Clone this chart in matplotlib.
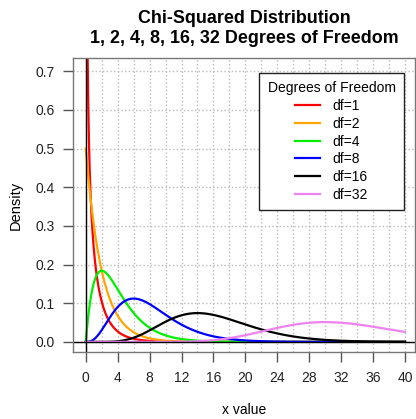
import math
import numpy as np
import matplotlib
matplotlib.use("Agg")
import matplotlib.pyplot as plt

plt.rcParams['font.family'] = ['Liberation Sans', 'DejaVu Sans']

# degrees of freedom and line colours
dfs = [1, 2, 4, 8, 16, 32]
colors = ['red', 'orange', '#00f000', 'blue', 'black', 'violet']
x_ticks = [0, 4, 8, 12, 16, 20, 24, 28, 32, 36, 40]
y_ticks = [0.0, 0.1, 0.2, 0.3, 0.4, 0.5, 0.6, 0.7]


def dchisq(x, k):
    return x ** (k / 2 - 1) * np.exp(-x / 2) / (2 ** (k / 2) * math.gamma(k / 2))


fig = plt.figure(figsize=(4.16, 4.19), dpi=100)
ax = fig.add_axes([0.1755, 0.160, 0.822, 0.7016])

x = np.linspace(0.0005, 40, 3000)
for k, c in zip(dfs, colors):
    ax.plot(x, dchisq(x, k), color=c, lw=1.6, label='df=%d' % k)

ax.axvline(0, color='black', lw=1)
ax.axhline(0, color='black', lw=1)

ax.set_xlim(-1.6, 41.25)
ax.set_ylim(-0.026, 0.734)
ax.set_xticks(x_ticks)
ax.set_xticks(np.arange(0, 41, 2), minor=True)
ax.set_yticks(y_ticks)
ax.set_yticklabels(['%.1f' % v for v in y_ticks])
ax.grid(True, which='both', axis='x', color='#bbbbbb', ls=':', lw=1)
ax.grid(True, which='major', axis='y', color='#bbbbbb', ls=':', lw=1)
ax.tick_params(which='minor', length=0)
ax.tick_params(which='major', length=7, width=1, color='#555555',
               labelsize=10, labelcolor='#222222')
ax.tick_params(axis='x', pad=7)
ax.tick_params(axis='y', pad=6)
for s in ax.spines.values():
    s.set_color('#777777')
    s.set_linewidth(1)

ax.set_xlabel('x value', fontsize=10, labelpad=13)
ax.set_ylabel('Density', fontsize=10.5, labelpad=9)
ax.set_title('Chi-Squared Distribution\n1, 2, 4, 8, 16, 32 Degrees of Freedom',
             fontsize=12.9, fontweight='bold', pad=11, linespacing=1.2)

leg = ax.legend(title='Degrees of Freedom', loc='upper right',
                bbox_to_anchor=(0.968, 0.949), borderaxespad=0,
                fontsize=10, title_fontsize=10,
                fancybox=False, framealpha=1, edgecolor='#222222',
                handlelength=1.8, handletextpad=0.9, borderpad=0.6,
                labelspacing=0.27)
leg.get_frame().set_linewidth(1)

fig.savefig('out.png', dpi=100)
